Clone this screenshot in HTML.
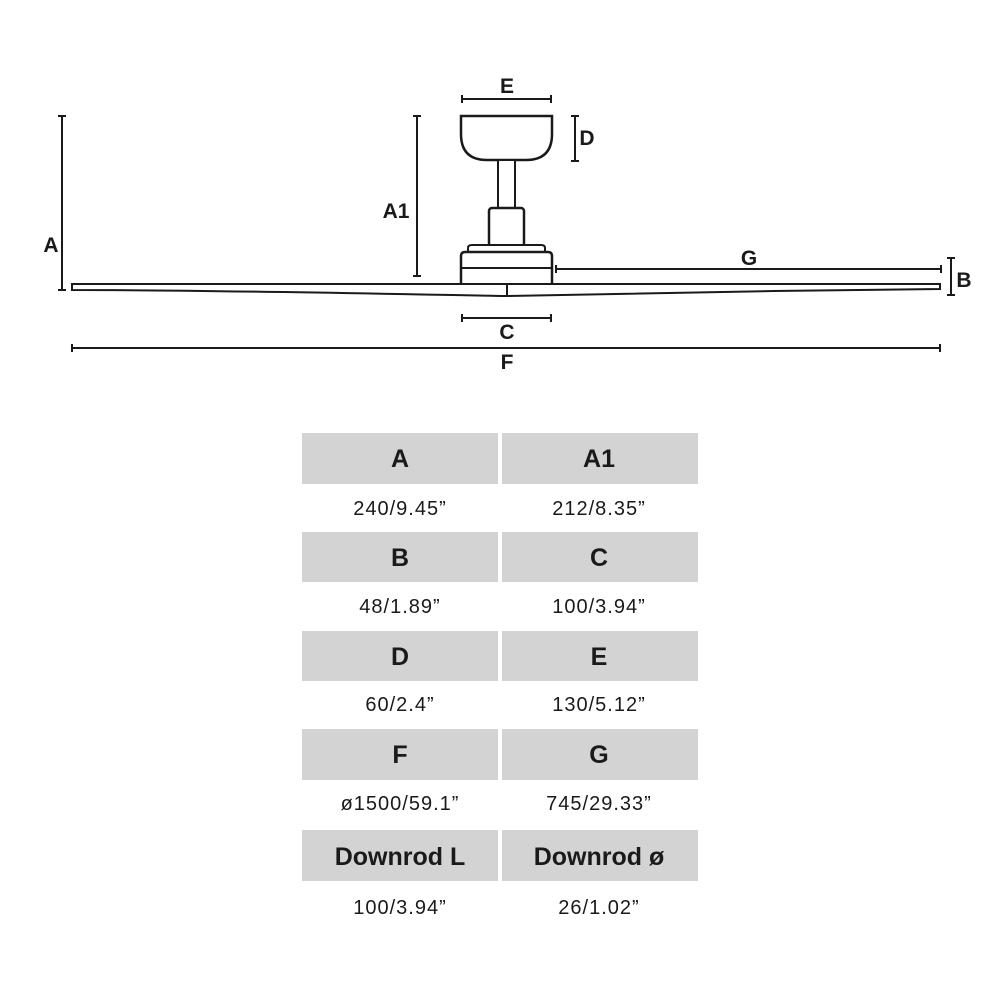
<!DOCTYPE html>
<html><head><style>
body{margin:0;background:#fff;}
svg{display:block}
</style></head><body>
<svg width="1000" height="1000" viewBox="0 0 1000 1000" xmlns="http://www.w3.org/2000/svg">
<g stroke="#1a1a1a" fill="none" stroke-width="2">
  <path d="M72 284 L940 284 L940 289 C800 290 600 294 507 296 C400 294 200 290 72 290 Z" fill="#fff"/>
  <line x1="507" y1="284" x2="507" y2="296"/>
  <path d="M461 116 L552 116 L552 134 Q552 160 526 160 L487 160 Q461 160 461 134 Z" fill="#fff" stroke-width="2.5"/>
  <rect x="498" y="160" width="17" height="49" fill="#fff"/>
  <rect x="489" y="208" width="35" height="38" rx="3" fill="#fff" stroke-width="2.5"/>
  <path d="M468 252 L468 248 Q468 245 472 245 L541 245 Q545 245 545 248 L545 252" fill="#fff"/>
  <path d="M461 283 L461 256 Q461 252 465 252 L548 252 Q552 252 552 256 L552 283" fill="#fff" stroke-width="2.5"/>
  <line x1="461" y1="268" x2="552" y2="268"/>
  <line x1="62" y1="116" x2="62" y2="290"/><line x1="58" y1="116" x2="66" y2="116"/><line x1="58" y1="290" x2="66" y2="290"/>
  <line x1="417" y1="116" x2="417" y2="276"/><line x1="413" y1="116" x2="421" y2="116"/><line x1="413" y1="276" x2="421" y2="276"/>
  <line x1="462" y1="99" x2="551" y2="99"/><line x1="462" y1="95" x2="462" y2="103"/><line x1="551" y1="95" x2="551" y2="103"/>
  <line x1="575" y1="116" x2="575" y2="161"/><line x1="571" y1="116" x2="579" y2="116"/><line x1="571" y1="161" x2="579" y2="161"/>
  <line x1="556" y1="269" x2="941" y2="269"/><line x1="556" y1="265" x2="556" y2="273"/><line x1="941" y1="265" x2="941" y2="273"/>
  <line x1="951" y1="258" x2="951" y2="295"/><line x1="947" y1="258" x2="955" y2="258"/><line x1="947" y1="295" x2="955" y2="295"/>
  <line x1="462" y1="318" x2="551" y2="318"/><line x1="462" y1="314" x2="462" y2="322"/><line x1="551" y1="314" x2="551" y2="322"/>
  <line x1="72" y1="348" x2="940" y2="348"/><line x1="72" y1="344" x2="72" y2="352"/><line x1="940" y1="344" x2="940" y2="352"/>
</g>
<g font-family="Liberation Sans, sans-serif" font-weight="bold" font-size="21" fill="#1a1a1a" text-anchor="middle">
  <text x="51" y="252">A</text>
  <text x="396" y="218">A1</text>
  <text x="507" y="93">E</text>
  <text x="587" y="145">D</text>
  <text x="749" y="265">G</text>
  <text x="964" y="287">B</text>
  <text x="507" y="339">C</text>
  <text x="507" y="369">F</text>
</g>
<g fill="#d3d3d3">
  <rect x="302" y="433" width="196" height="51"/><rect x="502" y="433" width="196" height="51"/>
  <rect x="302" y="532" width="196" height="50"/><rect x="502" y="532" width="196" height="50"/>
  <rect x="302" y="631" width="196" height="50"/><rect x="502" y="631" width="196" height="50"/>
  <rect x="302" y="729" width="196" height="51"/><rect x="502" y="729" width="196" height="51"/>
  <rect x="302" y="830" width="196" height="51"/><rect x="502" y="830" width="196" height="51"/>
</g>
<g font-family="Liberation Sans, sans-serif" font-weight="bold" font-size="25" fill="#1a1a1a" text-anchor="middle">
  <text x="400" y="467">A</text><text x="599" y="467">A1</text>
  <text x="400" y="566">B</text><text x="599" y="566">C</text>
  <text x="400" y="665">D</text><text x="599" y="665">E</text>
  <text x="400" y="763">F</text><text x="599" y="763">G</text>
  <text x="400" y="865">Downrod L</text><text x="599" y="865">Downrod ø</text>
</g>
<g font-family="Liberation Sans, sans-serif" font-size="20" fill="#1a1a1a" text-anchor="middle" letter-spacing="1">
  <text x="400" y="515">240/9.45”</text><text x="599" y="515">212/8.35”</text>
  <text x="400" y="613">48/1.89”</text><text x="599" y="613">100/3.94”</text>
  <text x="400" y="711">60/2.4”</text><text x="599" y="711">130/5.12”</text>
  <text x="400" y="810">ø1500/59.1”</text><text x="599" y="810">745/29.33”</text>
  <text x="400" y="914">100/3.94”</text><text x="599" y="914">26/1.02”</text>
</g>
</svg>
</body></html>
